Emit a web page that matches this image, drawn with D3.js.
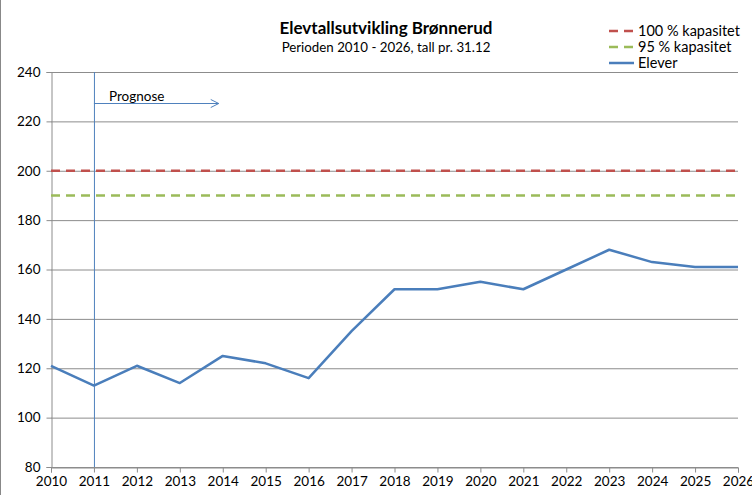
<!DOCTYPE html>
<html><head><meta charset="utf-8">
<script src="https://cdn.jsdelivr.net/npm/d3@7"></script>
<style>body{margin:0;background:#fff}svg{display:block;font-family:Lato,"Open Sans",sans-serif}</style>
</head><body>
<svg id="c" width="752" height="495"></svg>
<script>
const years = [2010,2011,2012,2013,2014,2015,2016,2017,2018,2019,2020,2021,2022,2023,2024,2025,2026];
const elever = [121,113,121,114,125,122,116,135,152,152,155,152,160,168,163,161,161];
const kap100 = 200;
const kap95 = 190;
const yTicks = [80,100,120,140,160,180,200,220,240];
const title = "Elevtallsutvikling Brønnerud";
const subtitle = "Perioden 2010 - 2026, tall pr. 31.12";
const legendLabels = ["100 % kapasitet","95 % kapasitet","Elever"];
const prognoseYear = 2011;

const svg = d3.select("#c");
const W=752,H=495;
const x = d3.scaleLinear().domain([2010,2026]).range([51,738]);
const y = d3.scaleLinear().domain([80,240]).range([467,72]);

svg.append("rect").attr("x",0.5).attr("y",-1).attr("width",W+2).attr("height",H+2).attr("fill","none").attr("stroke","#888");

// gridlines
svg.append("g").selectAll("line").data(yTicks).join("line")
  .attr("x1",x(2010)).attr("x2",x(2026)).attr("y1",d=>y(d)+0.5).attr("y2",d=>y(d)+0.5)
  .attr("stroke","#8c8c8c").attr("stroke-width",1);

// y axis
const ya = svg.append("g").attr("transform",`translate(${x(2010)+0.5},0)`)
  .call(d3.axisLeft(y).tickValues(yTicks).tickSize(5).tickPadding(6).tickFormat(d3.format("d")));
ya.select(".domain").attr("stroke","#8c8c8c");
ya.selectAll(".tick line").attr("stroke","#8c8c8c");
ya.selectAll("text").attr("font-size",13.5).attr("fill","#000").attr("font-family","Lato, 'Open Sans', sans-serif");

// x axis
const xa = svg.append("g").attr("transform",`translate(0,${y(80)+0.5})`)
  .call(d3.axisBottom(x).tickValues(years).tickSize(5).tickPadding(4).tickFormat(d3.format("d")));
xa.select(".domain").attr("stroke","#8c8c8c");
xa.selectAll(".tick line").attr("stroke","#8c8c8c");
xa.selectAll("text").attr("font-size",13.5).attr("fill","#000").attr("font-family","Lato, 'Open Sans', sans-serif");

// capacity lines
svg.append("line").attr("x1",x(2010)).attr("x2",x(2026)).attr("y1",y(kap100)).attr("y2",y(kap100))
  .attr("stroke","#c0504d").attr("stroke-width",2.5).attr("stroke-dasharray","9,6");
svg.append("line").attr("x1",x(2010)).attr("x2",x(2026)).attr("y1",y(kap95)).attr("y2",y(kap95))
  .attr("stroke","#9bbb59").attr("stroke-width",2.5).attr("stroke-dasharray","9,6");

// prognose line
svg.append("line").attr("x1",x(prognoseYear)+0.5).attr("x2",x(prognoseYear)+0.5).attr("y1",y(240)).attr("y2",y(80))
  .attr("stroke","#4f81bd").attr("stroke-width",1);
const ay = 103.5;
svg.append("line").attr("x1",x(prognoseYear)).attr("x2",x(2014)-4).attr("y1",ay).attr("y2",ay).attr("stroke","#4f81bd").attr("stroke-width",1);
svg.append("path").attr("d",`M${x(2014)-12},${ay-4} L${x(2014)-4},${ay} L${x(2014)-12},${ay+4}`).attr("fill","none").attr("stroke","#4f81bd");
svg.append("text").attr("x",109).attr("y",101).attr("font-size",13.5).text("Prognose");

// data line
svg.append("path").datum(elever.map((v,i)=>[years[i],v]))
  .attr("d",d3.line().x(d=>x(d[0])).y(d=>y(d[1])))
  .attr("fill","none").attr("stroke","#4a7ebb").attr("stroke-width",2.5).attr("stroke-linejoin","round");

// title
svg.append("text").attr("x",386).attr("y",34).attr("text-anchor","middle").attr("font-size",17).attr("font-weight","bold").text(title);
svg.append("text").attr("x",386).attr("y",52).attr("text-anchor","middle").attr("font-size",13.3).text(subtitle);

// legend
const lg = svg.append("g");
const lc = [["#c0504d","9,6"],["#9bbb59","9,6"],["#4a7ebb",null]];
legendLabels.forEach((t,i)=>{
  const yy = 31+i*16;
  const l = lg.append("line").attr("x1",609).attr("x2",634).attr("y1",yy).attr("y2",yy).attr("stroke",lc[i][0]).attr("stroke-width",2.5);
  if(lc[i][1]) l.attr("stroke-dasharray",lc[i][1]).attr("x1",609);
  lg.append("text").attr("x",638).attr("y",yy+5).attr("font-size",14.5).text(t);
});
</script>
</body></html>
